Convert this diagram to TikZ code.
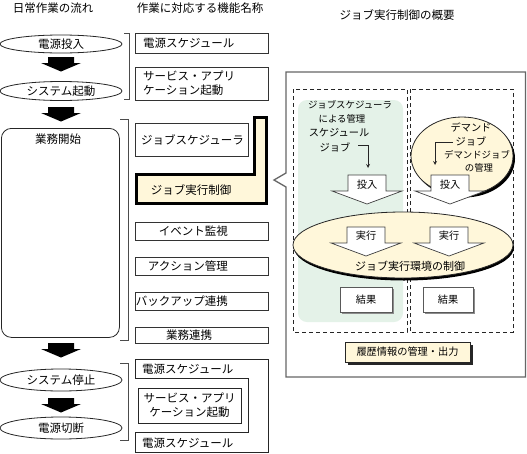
\documentclass[tikz,border=0pt]{standalone}
\usepackage{fontspec}
\setmainfont{Noto Sans CJK JP}
\definecolor{cream}{HTML}{FFF7DA}
\definecolor{paleg}{HTML}{E4F2E8}
\tikzset{
  txt/.style={font=\fontsize{11.5}{14}\selectfont, inner sep=0pt},
  mtxt/.style={font=\fontsize{10.2}{13}\selectfont, inner sep=0pt},
  stxt/.style={font=\fontsize{9.4}{12}\selectfont, inner sep=0pt},
  ln/.style={draw=black!85, line width=0.8pt},
  fbox/.style={draw=black!80, line width=0.8pt, inner sep=0pt, anchor=north west, minimum width=133pt},
  brk/.style={draw=black!70, line width=0.8pt},
  blkdown/.pic={\fill[black] (-13,0) -- (13,0) -- (13,6) -- (20,6) -- (0,14.5) -- (-20,6) -- (-13,6) -- cycle;},
  holdown/.pic={\draw[fill=white, draw=black!75, line width=0.7pt] (-19,0) -- (19,0) -- (19,16) -- (35,16) -- (0,29) -- (-35,16) -- (-19,16) -- cycle;}
}
\begin{document}
\begin{tikzpicture}[x=1pt,y=-1pt]
\useasboundingbox (0,0) rectangle (527,453);
\fill[white] (0,0) rectangle (527,453);

% headers
\node[txt] (h1) at (53,8) {日常作業の流れ};
\node[txt] (h2) at (200,8) {作業に対応する機能名称};
\node[txt] (h3) at (397,15.5) {ジョブ実行制御の概要};

% left flow
\node[txt] (on) at (61,44) {電源投入};
\draw[ln] (on.center) ellipse [x radius=61pt, y radius=9pt];
\pic at (61,57) {blkdown};
\node[txt] (boot) at (61,91) {システム起動};
\draw[ln] (boot.center) ellipse [x radius=61pt, y radius=9.5pt];
\pic at (61,107) {blkdown};
\node[ln, rounded corners=10pt, minimum width=118pt, minimum height=209pt, anchor=north west, inner sep=0pt] (biz) at (1,128) {};
\node[txt] (bizt) at (58,139) {業務開始};
\pic at (61,343) {blkdown};
\node[txt] (stop) at (61,380) {システム停止};
\draw[ln] (stop.center) ellipse [x radius=61pt, y radius=11pt];
\pic at (61,398) {blkdown};
\node[txt] (off) at (61,428) {電源切断};
\draw[ln] (off.center) ellipse [x radius=61pt, y radius=11pt];

% brackets
\draw[brk] (124,33) -- (129,33) -- (129,99) -- (124,99);
\draw[brk] (120,119) -- (128,119) -- (128,340) -- (120,340);
\draw[brk] (120,363) -- (128,363) -- (128,440) -- (120,440);

% function boxes
\node[fbox, minimum height=20pt] (ps) at (135,33) {};
\node[txt, anchor=west] (pst) at (143,43) {電源スケジュール};
\node[fbox, minimum height=33pt] (sv) at (135,67) {};
\node[txt, anchor=west, align=left] (svt) at (143,83.5) {サービス・アプリ\\ ケーション起動};
\node[fbox, minimum height=33pt, minimum width=113pt] (js) at (135,123) {};
\node[txt, anchor=west] (jst) at (141,139.5) {ジョブスケジューラ};
\draw[line width=2.6pt, fill=cream] (254.3,117.3) -- (266.7,117.3) -- (266.7,203.7) -- (136.3,203.7) -- (136.3,174.3) -- (254.3,174.3) -- cycle;
\node[txt] (jx) at (191,190) {ジョブ実行制御};
\node[fbox, minimum height=18pt] (ev) at (135,222) {};
\node[txt, anchor=east] (evt) at (228,231) {イベント監視};
\node[fbox, minimum height=18pt] (ac) at (135,257) {};
\node[txt, anchor=east] (act) at (228,266) {アクション管理};
\node[fbox, minimum height=18pt] (bk) at (135,292) {};
\node[txt, anchor=east] (bkt) at (228,301) {バックアップ連携};
\node[fbox, minimum height=16pt] (gy) at (135,327) {};
\node[txt] (gyt) at (189,335) {業務連携};

% bottom nested frame
\draw[ln] (135,359) -- (268,359) -- (268,452) -- (135,452) -- (135,432) -- (248,432) -- (248,378) -- (135,378) -- cycle;
\node[txt, anchor=west] (ps2) at (142,369) {電源スケジュール};
\node[ln, minimum width=103pt, minimum height=35pt, inner sep=0pt, anchor=north west] (sv2) at (138,388) {};
\node[txt, align=center] (sv2t) at (189.5,405.5) {サービス・アプリ\\ケーション起動};
\node[txt, anchor=west] (ps3) at (142,443) {電源スケジュール};

% right panel
\draw[draw=black!60, line width=1.3pt, fill=white] (286,72) -- (525.5,72) -- (525.5,377) -- (286,377) -- (286,187) -- (274,180) -- (286,173) -- cycle;
\draw[black!85, line width=0.8pt, dash pattern=on 4pt off 3pt] (293,89) rectangle (407,332);
\draw[black!85, line width=0.8pt, dash pattern=on 4pt off 3pt] (410,89) rectangle (513,332);
\fill[paleg, rounded corners=9pt] (298,100) rectangle (403,322);
\node[stxt] (sm1) at (350,105) {ジョブスケジューラ};
\node[stxt] (sm2) at (342,118.5) {による管理};
\node[mtxt] (sj1) at (339,132.5) {スケジュール};
\node[mtxt] (sj2) at (335,147) {ジョブ};
\coordinate (sja) at (358,145);
\coordinate (sjb) at (368,145);
\coordinate (sjc) at (368,168);
\draw[ln, -stealth] (sja) -- (sjb) -- (sjc);

% demand bubble
\fill[black] (464,158.5) ellipse [x radius=51pt, y radius=39pt];
\draw[ln, fill=cream] (462,156) ellipse [x radius=51pt, y radius=39pt];
\node[mtxt] (dm1) at (471,127) {デマンド};
\node[mtxt] (dm2) at (471,141.5) {ジョブ};
\node[stxt] (dm3) at (477,155) {デマンドジョブ};
\node[stxt] (dm4) at (479,168) {の管理};
\coordinate (dma) at (453,142);
\coordinate (dmb) at (435,142);
\coordinate (dmc) at (435,165);
\draw[ln, -stealth] (dma) -- (dmb) -- (dmc);

% insert arrows
\pic at (367,175) {holdown};
\node[mtxt] (in1) at (367,184.5) {投入};
\pic at (450,175) {holdown};
\node[mtxt] (in2) at (450,184.5) {投入};

% execution env ellipse
\fill[black] (404,247.5) ellipse [x radius=110pt, y radius=33pt];
\draw[ln, fill=cream] (403,245) ellipse [x radius=110pt, y radius=33pt];
\pic at (366,227) {holdown};
\node[mtxt] (ex1) at (366,236) {実行};
\pic at (449,227) {holdown};
\node[mtxt] (ex2) at (449,236) {実行};
\node[txt, font=\fontsize{11}{13}\selectfont] (env) at (410,266) {ジョブ実行環境の制御};

% results
\fill[black!45] (342,289) rectangle (394,314);
\node[draw=black!65, line width=0.8pt, fill=white, minimum width=52pt, minimum height=25pt, inner sep=0pt, mtxt] (r1) at (366,299.5) {結果};
\fill[black!45] (425,289) rectangle (475,314);
\node[draw=black!65, line width=0.8pt, fill=white, minimum width=50pt, minimum height=25pt, inner sep=0pt, mtxt] (r2) at (448,299.5) {結果};

% history
\fill[black!85] (347.5,344.5) rectangle (472.5,364.5);
\node[draw=black!85, line width=0.8pt, fill=cream, minimum width=125pt, minimum height=20pt, inner sep=0pt, mtxt] (hist) at (407.5,352) {履歴情報の管理・出力};
\end{tikzpicture}
\end{document}
